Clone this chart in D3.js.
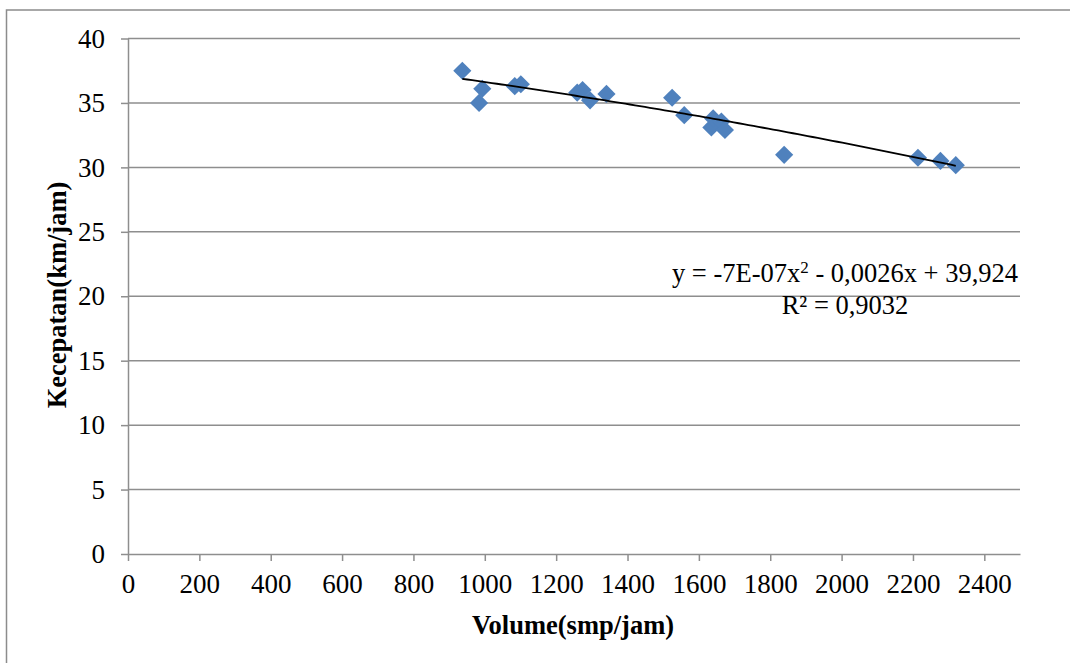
<!DOCTYPE html>
<html>
<head>
<meta charset="utf-8">
<script src="https://cdn.jsdelivr.net/npm/d3@7"></script>
<style>
html,body{margin:0;padding:0;background:#fff;}
svg{display:block;}
text{font-family:"Liberation Serif","Times New Roman",serif;fill:#000;}
</style>
</head>
<body>
<script>
// ---- data ----
const volume = [937, 993, 984, 1084, 1101, 1259, 1274, 1295, 1341, 1525, 1559, 1635, 1640, 1663, 1673, 1839, 2214, 2277, 2320];
const speed  = [37.5, 36.1, 35.0, 36.3, 36.45, 35.8, 36.0, 35.2, 35.7, 35.4, 34.05, 33.1, 33.8, 33.55, 32.9, 30.97, 30.75, 30.5, 30.17];
const trendCoef = [-7e-7, -0.0026, 39.924]; // a, b, c from the chart label
const xTicks = [0,200,400,600,800,1000,1200,1400,1600,1800,2000,2200,2400];
const yTicks = [0,5,10,15,20,25,30,35,40];
const xTitle = "Volume(smp/jam)";
const yTitle = "Kecepatan(km/jam)";
const rSquared = "R² = 0,9032";

const W = 1070, H = 663;
const svg = d3.select("body").append("svg").attr("width", W).attr("height", H);

// outer chart border
svg.append("rect").attr("x", 6.5).attr("y", 10).attr("width", W + 10).attr("height", H + 10)
  .attr("fill", "none").attr("stroke", "#8c8c8c").attr("stroke-width", 1.5);

const x = d3.scaleLinear().domain([0, 2500]).range([128, 1020]);
const y = d3.scaleLinear().domain([0, 40]).range([554, 38.5]);

const grid = "#8e8e8e";
const fmt = d3.format("d");

// horizontal gridlines
svg.append("g").selectAll("line").data(yTicks.filter(d => d > 0)).join("line")
  .attr("x1", x(0)).attr("x2", x(2500))
  .attr("y1", d => y(d)).attr("y2", d => y(d))
  .attr("stroke", grid).attr("stroke-width", 1.5);

// y axis
const yAxis = svg.append("g").attr("transform", `translate(${x(0)},0)`)
  .call(d3.axisLeft(y).tickValues(yTicks).tickFormat(fmt).tickSize(7).tickPadding(16).tickSizeOuter(0));
yAxis.select(".domain").attr("stroke", grid).attr("stroke-width", 1.5);
yAxis.selectAll(".tick line").attr("stroke", grid).attr("stroke-width", 1.5);
yAxis.selectAll("text").style("font-family", '"Liberation Serif",serif').style("font-size", "27px").attr("fill", "#000");

// x axis
const xAxis = svg.append("g").attr("transform", `translate(0,${y(0)})`)
  .call(d3.axisBottom(x).tickValues(xTicks).tickFormat(fmt).tickSize(7).tickPadding(13).tickSizeOuter(0));
xAxis.select(".domain").attr("stroke", grid).attr("stroke-width", 1.5);
xAxis.selectAll(".tick line").attr("stroke", grid).attr("stroke-width", 1.5);
xAxis.selectAll("text").style("font-family", '"Liberation Serif",serif').style("font-size", "27px").attr("fill", "#000");

// points (diamonds)
const sym = d3.symbol().type(d3.symbolSquare).size(165);
const pts = volume.map((v, i) => ({x: v, y: speed[i]}));
svg.append("g").selectAll("path").data(pts).join("path")
  .attr("d", sym)
  .attr("transform", d => `translate(${x(d.x)},${y(d.y)}) rotate(45)`)
  .attr("fill", "#4f81bd");

// trendline (polynomial order 2, coefficients from chart label)
const xmin = d3.min(volume), xmax = d3.max(volume);
const f = v => trendCoef[0] * v * v + trendCoef[1] * v + trendCoef[2];
const tl = d3.range(0, 101).map(i => xmin + (xmax - xmin) * i / 100);
svg.append("path").datum(tl)
  .attr("d", d3.line().x(d => x(d)).y(d => y(f(d))))
  .attr("fill", "none").attr("stroke", "#000").attr("stroke-width", 1.8);

// equation label
const eq = svg.append("text").attr("x", 845).attr("y", 282).attr("text-anchor", "middle")
  .style("font-size", "26.5px");
eq.append("tspan").text("y = -7E-07x");
eq.append("tspan").text("2").attr("dy", -9).style("font-size", "17px");
eq.append("tspan").text(" - 0,0026x + 39,924").attr("dy", 9);
svg.append("text").attr("x", 845).attr("y", 314).attr("text-anchor", "middle")
  .style("font-size", "26.5px").text(rSquared);

// axis titles
svg.append("text").attr("x", 573).attr("y", 634).attr("text-anchor", "middle")
  .style("font-size", "26.5px").style("font-weight", "bold").text(xTitle);
svg.append("text").attr("transform", "translate(66,295) rotate(-90)").attr("text-anchor", "middle")
  .style("font-size", "26.5px").style("font-weight", "bold").text(yTitle);
</script>
</body>
</html>
